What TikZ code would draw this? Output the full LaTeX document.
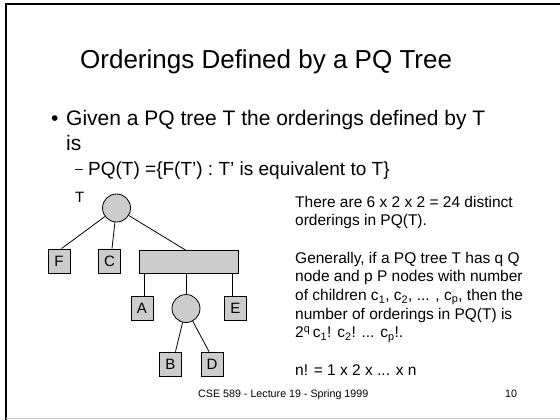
\documentclass[tikz,border=0pt]{standalone}
\usepackage{fontspec}
\setmainfont{Liberation Sans}
\definecolor{nodefill}{RGB}{204,204,204}
\definecolor{rulegray}{RGB}{200,200,200}
\tikzset{
  pnode/.style={circle, draw=black, fill=nodefill, line width=0.8pt, minimum size=28pt, inner sep=0pt},
  leaf/.style={rectangle, draw=black, fill=nodefill, line width=0.8pt, minimum width=22pt, minimum height=24pt, inner sep=0pt, font=\fontsize{15}{17}\selectfont},
  qnode/.style={rectangle, draw=black, fill=nodefill, line width=0.8pt, minimum width=99pt, minimum height=22.5pt, inner sep=0pt},
  edge/.style={draw=black, line width=0.8pt},
  txt/.style={anchor=base west, inner sep=0pt},
  side/.style={txt, font=\fontsize{15.5}{18}\selectfont},
}
\begin{document}
\begin{tikzpicture}[x=1pt, y=-1pt]
\useasboundingbox (0,0) rectangle (560,420);
\fill[white] (0,0) rectangle (560,420);
% slide frame
\draw[line width=2pt] (5.5,420) -- (5.5,4.5) -- (560,4.5);
\draw[rulegray, line width=1pt] (5.5,418.5) -- (560,418.5);

% title and bullets
\node[txt, font=\fontsize{26}{30}\selectfont] (title) at (80,69) {Orderings Defined by a PQ Tree};
\node[txt, font=\fontsize{21}{24}\selectfont] (bul) at (51,125.5) {•};
\node[txt, font=\fontsize{21}{24}\selectfont] (l1) at (66,125.5) {Given a PQ tree T the orderings defined by T};
\node[txt, font=\fontsize{21}{24}\selectfont] (l2) at (66,150) {is};
\node[txt, font=\fontsize{14}{16}\selectfont] (dash) at (75,173) {–};
\node[txt, font=\fontsize{19}{22}\selectfont] (l3) at (88,175) {PQ(T) =\{F(T’) : T’ is equivalent to T\}};
\node[txt, font=\fontsize{15}{17}\selectfont] (tlab) at (75,202) {T};

% PQ tree
\node[pnode] (root) at (116.5,208) {};
\node[leaf] (F) at (59,261) {F};
\node[leaf] (C) at (109.5,261) {C};
\node[qnode] (Q) at (188.5,262) {};
\node[leaf] (A) at (142,308) {A};
\node[pnode] (P) at (186,308.5) {};
\node[leaf] (E) at (235.3,308) {E};
\node[leaf] (B) at (170.5,364) {B};
\node[leaf] (D) at (212,364) {D};

\draw[edge] (root) -- ([xshift=2.5pt]F.north);
\draw[edge] (root) -- ([xshift=2.5pt]C.north);
\draw[edge] (root) -- ([xshift=-2.5pt]Q.north);
\draw[edge] ([xshift=2.3pt]A.north) -- ([xshift=2.3pt]A.north |- Q.south);
\draw[edge] (P) -- (P |- Q.south);
\draw[edge] ([xshift=-2.6pt]E.north) -- ([xshift=-2.6pt]E.north |- Q.south);
\draw[edge] (P) -- ([xshift=5pt]B.north);
\draw[edge] (P) -- ([xshift=-3pt]D.north);

% explanation on the right
\node[side] (r1) at (295,207) {There are 6 x 2 x 2 = 24 distinct};
\node[side] (r2) at (295,225.7) {orderings in PQ(T).};
\node[side] (r3) at (295,263.1) {Generally, if a PQ tree T has q Q};
\node[side] (r4) at (295,281.8) {node and p P nodes with number};
\node[side] (r5) at (295,300.5) {of children c\textsubscript{1}, c\textsubscript{2}, ... , c\textsubscript{p}, then the};
\node[side] (r6) at (295,319.2) {number of orderings in PQ(T) is};
\node[side] (r7) at (295,337.9) {2\textsuperscript{q}\,c\textsubscript{1}! c\textsubscript{2}! ... c\textsubscript{p}!.};
\node[side] (r8) at (295,375.3) {n! = 1 x 2 x ... x n};

% footer
\node[txt, font=\fontsize{10.7}{12}\selectfont] (foot) at (198,397) {CSE 589 - Lecture 19 - Spring 1999};
\node[txt, font=\fontsize{10.7}{12}\selectfont] (page) at (505,397) {10};
\end{tikzpicture}
\end{document}
